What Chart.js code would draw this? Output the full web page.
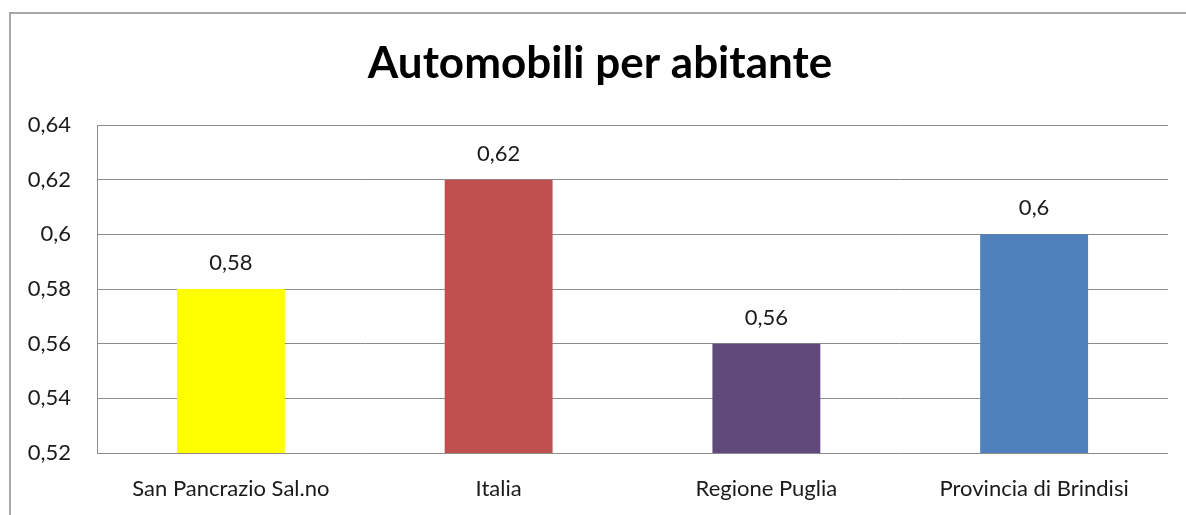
<!DOCTYPE html>
<html>
<head>
<meta charset="utf-8">
<script src="https://cdn.jsdelivr.net/npm/chart.js@4"></script>
<style>
html,body{margin:0;padding:0;background:#fff;}
#wrap{position:relative;width:1186px;height:515px;}
</style>
</head>
<body>
<div id="wrap"><canvas id="c" width="1186" height="515"></canvas></div>
<script>
const categories = ["San Pancrazio Sal.no", "Italia", "Regione Puglia", "Provincia di Brindisi"];
const values = [0.58, 0.62, 0.56, 0.60];
const barColors = ["#FFFF00", "#C0504D", "#604A7B", "#4F81BD"];
const chartTitle = "Automobili per abitante";
const yMin = 0.52, yMax = 0.64, yStep = 0.02;

const FONT = "Lato, 'Open Sans', sans-serif";
const fmt = v => String(Math.round(v * 100) / 100).replace('.', ',');

const frame = {
  id: 'frame',
  beforeDraw(chart) {
    const ctx = chart.ctx;
    ctx.save();
    ctx.fillStyle = '#fff';
    ctx.fillRect(0, 0, chart.width, chart.height);
    ctx.strokeStyle = '#a8a8a8';
    ctx.lineWidth = 2;
    ctx.beginPath();
    ctx.moveTo(10, chart.height);
    ctx.lineTo(10, 13);
    ctx.lineTo(chart.width, 13);
    ctx.stroke();
    ctx.restore();
  },
  afterDraw(chart) {
    const ctx = chart.ctx;
    ctx.save();
    ctx.font = "bold 44px " + FONT;
    ctx.fillStyle = '#000';
    ctx.textAlign = 'center';
    ctx.textBaseline = 'alphabetic';
    ctx.fillText(chartTitle, 600, 78);
    ctx.restore();
  }
};

const valueLabels = {
  id: 'valueLabels',
  afterDatasetsDraw(chart) {
    const ctx = chart.ctx;
    const meta = chart.getDatasetMeta(0);
    ctx.save();
    ctx.font = "22px " + FONT;
    ctx.fillStyle = '#1a1a1a';
    ctx.textAlign = 'center';
    ctx.textBaseline = 'middle';
    meta.data.forEach((bar, i) => {
      ctx.fillText(fmt(chart.data.datasets[0].data[i]), bar.x, bar.y - 26);
    });
    ctx.restore();
  }
};

new Chart(document.getElementById('c'), {
  type: 'bar',
  data: {
    labels: categories,
    datasets: [{
      data: values,
      backgroundColor: barColors,
      borderWidth: 0,
      categoryPercentage: 1,
      barPercentage: 0.403
    }]
  },
  options: {
    responsive: false,
    animation: false,
    layout: { padding: { left: 0, right: 18, top: 125, bottom: 0 } },
    plugins: {
      legend: { display: false },
      tooltip: { enabled: false },
      title: { display: false }
    },
    scales: {
      x: {
        grid: { display: false, drawTicks: false },
        border: { display: false },
        ticks: { color: '#1a1a1a', font: { family: FONT, size: 22 }, padding: 23, maxRotation: 0, autoSkip: false },
        afterFit(s) { s.height = 62; }
      },
      y: {
        min: yMin, max: yMax,
        grid: { color: '#8c8c8c', lineWidth: 1, drawTicks: false },
        border: { display: true, color: '#8c8c8c', width: 1 },
        ticks: { stepSize: yStep, color: '#1a1a1a', font: { family: FONT, size: 22 }, padding: 26, callback: v => fmt(v) },
        afterFit(s) { s.width = 97; }
      }
    }
  },
  plugins: [frame, valueLabels]
});
</script>
</body>
</html>
